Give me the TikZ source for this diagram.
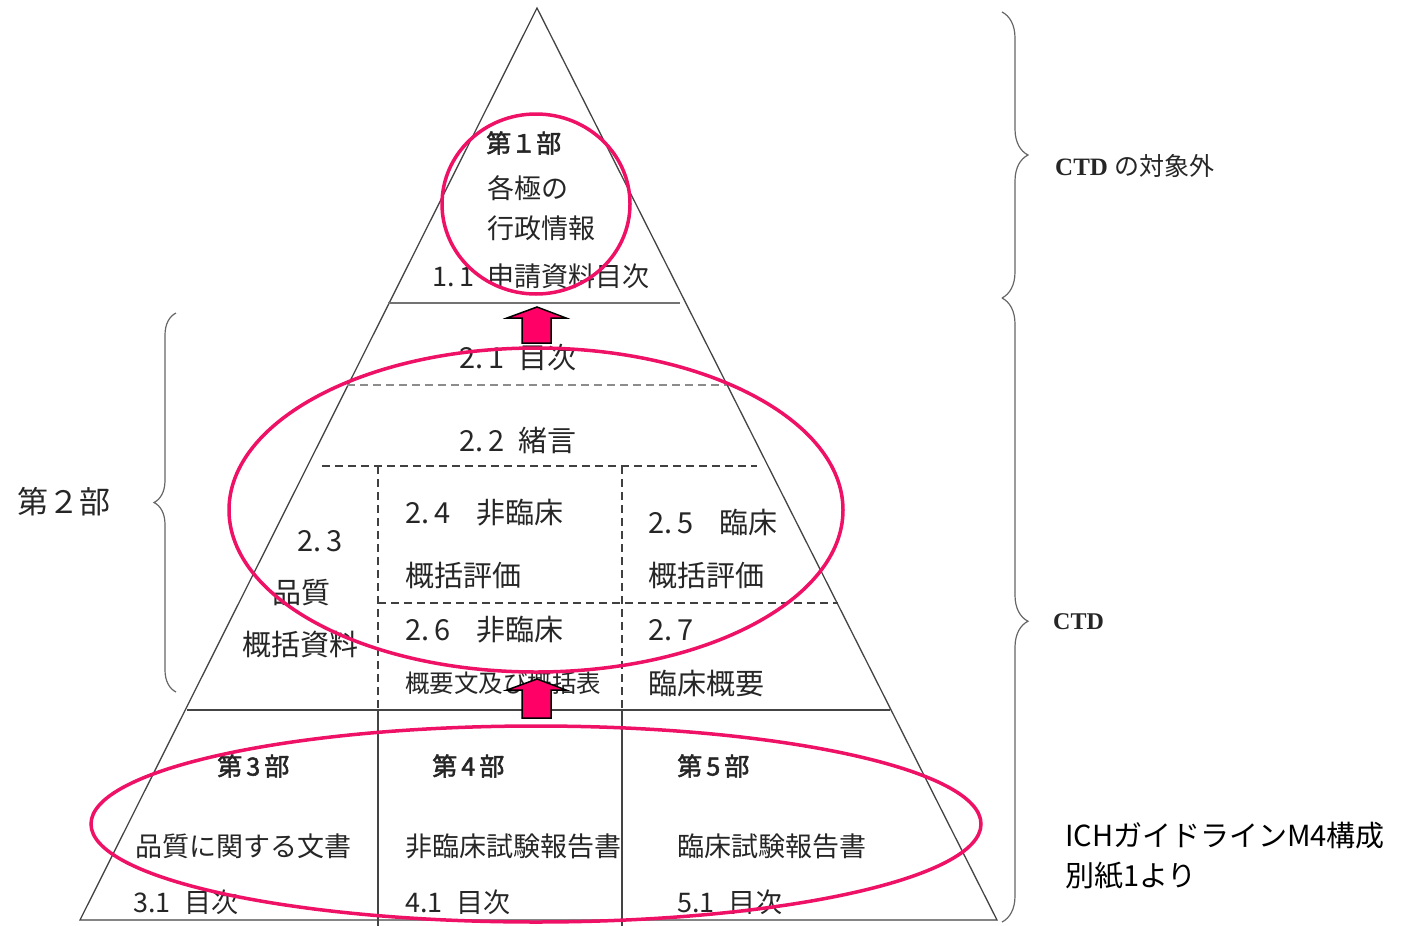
\documentclass[tikz,border=0pt]{standalone}
\usepackage{fontspec}
\setmainfont{Liberation Serif}
\newfontfamily\jp{Noto Sans CJK JP}
\newfontfamily\jpb[FakeBold=2]{Noto Sans CJK JP}
\usetikzlibrary{decorations.pathreplacing}
\definecolor{ring}{HTML}{EE1166}
\definecolor{arrowfill}{HTML}{FF0066}
\definecolor{linegray}{HTML}{444444}
\begin{document}
\begin{tikzpicture}[x=1pt,y=-1pt,
  txt/.style={anchor=west,inner sep=0pt,text=black!85,font=\jp\fontsize{27}{30}\selectfont},
  big/.style={txt,font=\jp\fontsize{29}{32}\selectfont},
  small/.style={txt,font=\jp\fontsize{24.5}{28}\selectfont},
  head/.style={txt,font=\jpb\fontsize{25}{28}\selectfont},
  solidline/.style={draw=linegray,line width=1.3pt},
  dashline/.style={draw=black!75,line width=1.3pt,dash pattern=on 8pt off 5pt},
  graydash/.style={draw=black!45,line width=1.5pt,dash pattern=on 8pt off 5pt},
  ringstyle/.style={draw=ring,line width=3.5pt},
  blockarrow/.style={fill=arrowfill,draw=black,line width=1.5pt,line join=miter},
  bracestyle/.style={draw=black!60,line width=1.2pt,decorate}
]
\useasboundingbox (0,0) rectangle (1403,926);
% triangle
\coordinate (apex) at (537,8);
\coordinate (bl) at (80,920);
\coordinate (br) at (997,920);
\draw[solidline] (bl) -- (apex) -- (br) -- cycle;
% section lines
\draw[draw=black!55,line width=1.5pt] (388,303) -- (680,303);
\draw[graydash] (347,385) -- (727,385);
\draw[dashline] (322,466) -- (757,466);
\draw[dashline] (378,603) -- (838,603);
\draw[dashline] (378,466) -- (378,710);
\draw[dashline] (622,466) -- (622,710);
\draw[solidline] (187,710) -- (890,710);
\draw[solidline] (378,710) -- (378,926);
\draw[solidline] (622,710) -- (622,926);
% part 1 text
\node[head] (p1) at (486,143) {第１部};
\node[txt] (p1a) at (487,188) {各極の};
\node[txt] (p1b) at (487,228) {行政情報};
\node[txt] (p11) at (432,276) {1.\,1\enspace 申請資料目次};
% part 2 text
\node[big] (p21) at (459,358) {2.\,1\enspace 目次};
\node[big] (p22) at (459,440) {2.\,2\enspace 緒言};
\node[big] (p23a) at (297,541) {2.\,3};
\node[big] (p23b) at (272,593) {品質};
\node[big] (p23c) at (242,645) {概括資料};
\node[big] (p24a) at (405,513) {2.\,4\enspace\, 非臨床};
\node[big] (p24b) at (405,575) {概括評価};
\node[big] (p25a) at (648,522) {2.\,5\enspace\, 臨床};
\node[big] (p25b) at (648,575) {概括評価};
\node[big] (p26a) at (405,630) {2.\,6\enspace\, 非臨床};
\node[small] (p26b) at (405,683) {概要文及び概括表};
\node[big] (p27a) at (648,630) {2.\,7};
\node[big] (p27b) at (648,683) {臨床概要};
% parts 3-5
\node[head] (p3) at (217,766) {第\,3\,部};
\node[head] (p4) at (432,766) {第\,4\,部};
\node[head] (p5) at (677,766) {第\,5\,部};
\node[txt] (p3a) at (135,846) {品質に関する文書};
\node[txt] (p4a) at (405,846) {非臨床試験報告書};
\node[txt] (p5a) at (677,846) {臨床試験報告書};
\node[txt] (p3b) at (133,902) {3.1\enspace 目次};
\node[txt] (p4b) at (405,902) {4.1\enspace 目次};
\node[txt] (p5b) at (677,902) {5.1\enspace 目次};
% rings
\draw[ringstyle] (536,204) ellipse [x radius=94, y radius=90];
\draw[ringstyle] (536,510) ellipse [x radius=307, y radius=162];
\draw[ringstyle] (536,824) ellipse [x radius=445, y radius=98];
% block arrows
\draw[blockarrow] (522,343) -- (522,318) -- (507,318) -- (537,307) -- (566,318) -- (551,318) -- (551,343) -- cycle;
\draw[blockarrow] (522,718) -- (522,690) -- (507,690) -- (537,679) -- (566,690) -- (551,690) -- (551,718) -- cycle;
% braces
\coordinate (lb1) at (176,692);
\coordinate (lb2) at (176,313);
\draw[bracestyle,decoration={brace,amplitude=22pt}] (lb1) -- (lb2);
\node[txt,font=\jp\fontsize{31}{34}\selectfont] (part2) at (17,502) {第２部};
\coordinate (rb1) at (1002,12);
\coordinate (rb2) at (1002,298);
\coordinate (rb3) at (1002,922);
\draw[bracestyle,decoration={brace,amplitude=26pt}] (rb1) -- (rb2);
\draw[bracestyle,decoration={brace,amplitude=26pt,aspect=0.518}] (rb2) -- (rb3);
\node[anchor=west,inner sep=0pt,text=black!85,font=\fontsize{25}{28}\selectfont] (ctdout) at (1055,166) {\textbf{CTD} {\jp の対象外}};
\node[anchor=west,inner sep=0pt,text=black!85,font=\fontsize{24}{27}\selectfont\bfseries] (ctd) at (1053,622) {CTD};
\node[anchor=west,inner sep=0pt,text=black,font=\jp\fontsize{29}{32}\selectfont] (src1) at (1065,836) {ICHガイドラインM4構成};
\node[anchor=west,inner sep=0pt,text=black,font=\jp\fontsize{29}{32}\selectfont] (src2) at (1065,876) {別紙1より};
\end{tikzpicture}
\end{document}
